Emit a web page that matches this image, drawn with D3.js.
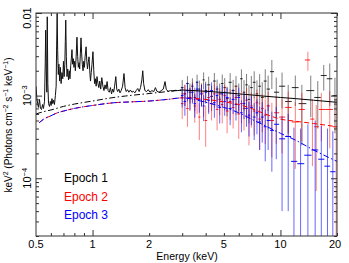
<!DOCTYPE html>
<html><head><meta charset="utf-8">
<script src="https://cdn.jsdelivr.net/npm/d3@7"></script>
<style>body{margin:0;background:#fff}svg{display:block}text{font-family:"Liberation Sans",Arial,Helvetica,sans-serif}</style>
</head><body>
<svg id="c" width="349" height="263"></svg>
<script>
const UNIT = 1e-3;
// Epoch 1 unfolded spectrum below 3 keV (E keV, value x1e-3)
const specE = [0.500,0.505,0.510,0.515,0.522,0.528,0.535,0.542,0.548,0.555,0.560,0.563,0.567,0.571,0.574,0.578,0.583,0.590,0.596,0.602,0.608,0.614,0.620,0.627,0.634,0.640,0.644,0.648,0.652,0.657,0.662,0.668,0.674,0.680,0.687,0.694,0.700,0.706,0.712,0.716,0.720,0.725,0.731,0.738,0.745,0.752,0.758,0.765,0.771,0.777,0.783,0.790,0.796,0.803,0.810,0.818,0.826,0.833,0.840,0.847,0.854,0.861,0.868,0.875,0.882,0.890,0.897,0.905,0.913,0.924,0.932,0.940,0.948,0.958,0.966,0.975,0.984,0.993,1.005,1.015,1.025,1.035,1.045,1.056,1.068,1.080,1.092,1.105,1.120,1.135,1.150,1.165,1.180,1.195,1.210,1.228,1.245,1.262,1.280,1.295,1.310,1.330,1.345,1.360,1.380,1.400,1.420,1.445,1.470,1.490,1.510,1.535,1.560,1.590,1.620,1.650,1.680,1.710,1.740,1.770,1.800,1.830,1.850,1.870,1.900,1.940,1.980,2.020,2.070,2.120,2.160,2.200,2.260,2.320,2.380,2.430,2.470,2.530,2.600,2.680,2.760,2.840,2.920,3.000];
const specV = [1.30,0.95,0.80,0.72,0.90,0.70,0.68,0.78,0.70,0.85,2.50,6.20,2.00,1.10,9.00,1.40,0.80,0.74,0.85,0.76,0.92,0.80,0.88,0.78,1.00,1.30,4.00,9.90,3.50,1.80,2.40,1.50,2.20,1.40,1.90,1.60,2.60,1.70,2.40,4.50,8.20,3.00,1.70,2.10,1.55,2.00,1.60,2.30,2.80,3.60,2.40,2.80,2.20,2.60,2.00,3.00,5.10,3.00,2.20,2.50,2.10,3.20,5.00,3.20,2.40,2.00,2.60,2.20,3.00,3.90,2.60,2.10,2.50,2.95,2.00,1.50,1.90,2.40,3.40,2.00,1.40,1.60,1.30,1.70,1.40,1.25,1.50,1.20,1.65,1.30,1.15,1.35,1.20,1.48,1.15,1.10,1.25,1.05,1.20,1.10,1.30,1.70,1.20,1.12,1.20,1.08,1.15,1.30,1.85,1.25,1.12,1.18,1.10,1.17,1.10,1.13,1.08,1.16,1.22,1.12,1.25,1.55,2.00,1.40,1.15,1.12,1.18,1.10,1.15,1.12,1.25,1.13,1.10,1.15,1.20,1.48,1.18,1.13,1.15,1.14,1.16,1.15,1.16,1.17];

// Epoch 1 data points (3-20 keV)
const e1E = [3.0,3.1,3.2,3.3,3.4,3.5,3.6,3.7,3.8,3.9,4.0,4.15,4.3,4.45,4.6,4.75,4.9,5.05,5.2,5.4,5.6,5.8,6.0,6.2,6.4,6.6,6.8,7.0,7.25,7.5,7.75,8.0,8.3,8.6,9.0,9.5,10.2,11.0,12.0,13.0,14.5,15.8,17.0,18.3,19.5];
const e1V = [1.25,1.05,1.40,1.10,1.30,0.95,1.45,1.20,1.05,1.55,1.15,1.35,0.98,1.50,1.20,1.05,1.40,1.25,0.92,1.45,1.15,1.30,1.00,1.60,1.10,1.35,0.90,1.25,1.45,1.05,1.30,0.95,1.50,1.20,1.95,1.10,1.30,0.85,1.25,0.80,1.15,0.95,1.75,1.60,1.00];
const e1Err = [0.30,0.30,0.32,0.30,0.32,0.30,0.34,0.32,0.32,0.36,0.33,0.35,0.33,0.38,0.36,0.35,0.40,0.38,0.36,0.42,0.40,0.42,0.40,0.48,0.44,0.48,0.44,0.48,0.52,0.48,0.52,0.50,0.58,0.55,0.75,0.55,0.60,0.50,0.50,0.55,0.60,0.55,0.60,0.85,0.65];
// Epoch 2
const e2E = [3.0,3.1,3.2,3.3,3.4,3.5,3.6,3.7,3.8,3.9,4.0,4.15,4.3,4.45,4.6,4.75,4.9,5.05,5.2,5.4,5.6,5.8,6.0,6.2,6.4,6.6,6.8,7.0,7.25,7.5,7.75,8.0,8.3,8.6,9.0,9.5,10.2,11.0,12.0,13.0,14.0,14.8,15.5,16.5,18.3,19.8];
const e2V = [0.80,1.05,0.70,0.95,1.15,0.75,0.90,0.55,1.10,0.85,0.50,0.95,0.80,1.05,0.68,0.90,0.78,1.00,0.65,0.85,0.72,0.95,0.60,0.80,0.70,0.88,0.55,0.75,0.65,0.82,0.52,0.70,0.58,0.75,0.50,0.62,0.55,0.72,0.48,0.68,2.70,0.52,0.42,0.68,0.68,0.42];
const e2Err = [0.28,0.30,0.28,0.30,0.32,0.28,0.30,0.26,0.32,0.30,0.26,0.32,0.30,0.34,0.30,0.32,0.32,0.34,0.30,0.34,0.32,0.36,0.30,0.34,0.32,0.36,0.30,0.34,0.32,0.36,0.30,0.34,0.32,0.36,0.32,0.36,0.35,0.40,0.35,0.40,0.70,0.38,0.35,0.40,0.45,0.50];
// Epoch 3
const e3E = [3.0,3.1,3.2,3.3,3.4,3.5,3.6,3.7,3.8,3.9,4.0,4.15,4.3,4.45,4.6,4.75,4.9,5.05,5.2,5.4,5.6,5.8,6.0,6.2,6.4,6.6,6.8,7.0,7.25,7.5,7.75,8.0,8.3,8.6,9.0,9.5,10.2,11.0,11.8,12.8,14.0,15.3,16.5,17.8,19.0];
const e3V = [1.00,0.85,1.15,0.95,1.10,0.80,1.20,0.90,1.05,0.75,1.10,0.88,1.15,0.82,1.00,0.72,1.05,0.85,0.95,0.70,0.90,0.78,0.95,0.62,0.80,0.70,0.58,0.72,0.55,0.62,0.48,0.55,0.42,0.50,0.38,0.45,0.30,0.32,0.16,0.15,0.19,0.22,0.17,0.14,0.12];
const e3Err = [0.28,0.28,0.30,0.28,0.30,0.26,0.30,0.28,0.30,0.26,0.30,0.28,0.30,0.28,0.30,0.26,0.30,0.28,0.30,0.26,0.30,0.28,0.30,0.26,0.28,0.28,0.26,0.28,0.26,0.28,0.26,0.28,0.26,0.28,0.26,0.28,0.26,0.28,0.25,0.25,0.26,0.28,0.26,0.26,0.25];

// Models
const modBlkE = [0.5,0.55,0.6,0.7,0.8,1.0,1.3,1.5,2.0,2.5,3.0,4.0,5.0,6.0,7.0,8.0,10,12,15,20];
const modBlkV = [0.60,0.64,0.67,0.74,0.79,0.86,0.95,0.99,1.06,1.12,1.17,1.13,1.09,1.05,1.02,0.99,0.95,0.92,0.88,0.83];
const modRedE = [0.52,0.55,0.6,0.65,0.7,0.8,1.0,1.3,1.6,2.0,2.5,3.0,4.0,5.0,6.0,7.0,8.0,9.0,10,12,15,20];
const modRedV = [0.47,0.52,0.57,0.62,0.65,0.70,0.76,0.82,0.84,0.86,0.90,0.94,0.90,0.84,0.78,0.70,0.62,0.56,0.52,0.49,0.46,0.42];
const modBluE = [0.52,0.55,0.6,0.65,0.7,0.8,1.0,1.3,1.6,2.0,2.5,3.0,4.0,5.0,6.0,7.0,8.0,10,12,15,20];
const modBluV = [0.47,0.52,0.57,0.62,0.65,0.70,0.76,0.82,0.84,0.86,0.90,0.94,0.83,0.72,0.62,0.52,0.45,0.35,0.29,0.22,0.16];

const xTickLabels = [0.5,1,2,5,10,20];
const xMajor = [1,10];
const xMinor = [0.6,0.7,0.8,0.9,2,3,4,5,6,7,8,9,20];
const yMajor = [1e-4,1e-3,1e-2];
const yLabels = ["10|-4","10|-3","0.01"];
const legend = ["Epoch 1","Epoch 2","Epoch 3"];
const colors = ["#000000","#ff0000","#0000ff"];

const svg = d3.select("#c");
const L=36,R=337,T=13,B=236;
const x = d3.scaleLog().domain([0.5,20]).range([L,R]);
const y = d3.scaleLog().domain([2e-5,0.01]).range([B,T]);
const yMinor = [];
for (let d=-5; d<=-3; d++) for (let k=2;k<=9;k++){ const v=k*Math.pow(10,d); if (v>=2e-5 && v<0.01) yMinor.push(v); }

svg.append("defs").append("clipPath").attr("id","clip").append("rect")
  .attr("x",L).attr("y",T).attr("width",R-L).attr("height",B-T);
const plot = svg.append("g").attr("clip-path","url(#clip)");

// spectrum line
const specLine = d3.line().x(d=>x(d[0])).y(d=>y(d[1]*UNIT));
plot.append("path").datum(specE.map((e,i)=>[e,specV[i]]))
  .attr("d",specLine).attr("fill","none").attr("stroke","#111").attr("stroke-width",1);

// data crosses
function crosses(E,V,Er,col,op){
  const n=Math.min(E.length,V.length,Er.length);
  const g=plot.append("g");
  for(let i=0;i<n;i++){
    const lg=Math.log(E[i]);
    const dl = i>0 ? (lg-Math.log(E[i-1]))/2 : (Math.log(E[1])-lg)/2;
    const dr = i<n-1 ? (Math.log(E[i+1])-lg)/2 : (lg-Math.log(E[i-1]))/2;
    const x0=x(Math.exp(lg-dl)), x1=x(Math.exp(lg+dr));
    const lo=V[i]-Er[i], hi=V[i]+Er[i];
    const y0 = lo>0 ? y(lo*UNIT) : B+2;
    g.append("line").attr("x1",x(E[i])).attr("x2",x(E[i]))
      .attr("y1",y(hi*UNIT)).attr("y2",y0)
      .attr("stroke",col).attr("stroke-opacity",op).attr("stroke-width",1);
    g.append("line").attr("x1",x0).attr("x2",x1)
      .attr("y1",y(V[i]*UNIT)).attr("y2",y(V[i]*UNIT))
      .attr("stroke",col).attr("stroke-opacity",Math.min(1,op+0.35)).attr("stroke-width",1);
  }
}
crosses(e1E,e1V,e1Err,"#000",0.5);
crosses(e2E,e2V,e2Err,"#ff0000",0.5);
crosses(e3E,e3V,e3Err,"#0000ff",0.6);

// models
const mline = d3.line().x(d=>x(d[0])).y(d=>y(d[1]*UNIT)).curve(d3.curveMonotoneX);
const blk = modBlkE.map((e,i)=>[e,modBlkV[i]]);
plot.append("path").datum(blk.filter(d=>d[0]<=3)).attr("d",mline)
  .attr("fill","none").attr("stroke","#000").attr("stroke-width",1).attr("stroke-dasharray","6,2.5,1.5,2.5");
plot.append("path").datum(blk.filter(d=>d[0]>=3)).attr("d",mline)
  .attr("fill","none").attr("stroke","#000").attr("stroke-width",1);
plot.append("path").datum(modRedE.map((e,i)=>[e,modRedV[i]])).attr("d",mline)
  .attr("fill","none").attr("stroke","#ff0000").attr("stroke-width",1).attr("stroke-dasharray","5,3");
plot.append("path").datum(modBluE.map((e,i)=>[e,modBluV[i]])).attr("d",mline)
  .attr("fill","none").attr("stroke","#0000ff").attr("stroke-width",1).attr("stroke-dasharray","6,2.5,1.5,2.5");

// axes (ticks inward)
function ax(gen, tr, vals, size){
  const g=svg.append("g").attr("transform",tr)
    .call(gen.tickValues(vals).tickSize(size).tickFormat(""));
  g.select(".domain").remove();
  g.selectAll("line").attr("stroke","#333");
}
ax(d3.axisBottom(x),`translate(0,${B})`,xMajor,-6);
ax(d3.axisBottom(x),`translate(0,${B})`,xMinor,-3);
ax(d3.axisTop(x),`translate(0,${T})`,xMajor,-6);
ax(d3.axisTop(x),`translate(0,${T})`,xMinor,-3);
ax(d3.axisLeft(y),`translate(${L},0)`,yMajor,-6);
ax(d3.axisLeft(y),`translate(${L},0)`,yMinor,-3);
ax(d3.axisRight(y),`translate(${R},0)`,yMajor,-6);
ax(d3.axisRight(y),`translate(${R},0)`,yMinor,-3);

svg.append("rect").attr("x",L).attr("y",T).attr("width",R-L).attr("height",B-T)
  .attr("fill","none").attr("stroke","#333").attr("stroke-width",1);

// x labels
svg.append("g").selectAll("text").data(xTickLabels).join("text")
  .attr("x",d=>d===20?x(d)-2:x(d)).attr("y",248).attr("text-anchor","middle")
  .attr("font-size",11).attr("fill","#000").text(d=>d);
svg.append("text").attr("x",187).attr("y",260).attr("text-anchor","middle")
  .attr("font-size",10.5).text("Energy (keV)");

// y labels (rotated)
yMajor.forEach((v,i)=>{
  const parts=yLabels[i].split("|");
  const yy = v===1e-2 ? y(v)+5 : y(v);
  const t=svg.append("text").attr("transform",`translate(31,${yy}) rotate(-90)`)
    .attr("text-anchor","middle").attr("font-size",11);
  t.append("tspan").text(parts[0]);
  if(parts[1]) t.append("tspan").attr("dy",-4).attr("font-size",7.5).text(parts[1].replace("-","\u2212"));
});
const yt=svg.append("text").attr("transform",`translate(12,125) rotate(-90)`)
  .attr("text-anchor","middle").attr("font-size",10);
yt.append("tspan").text("keV");
yt.append("tspan").attr("dy",-4).attr("font-size",7).text("2");
yt.append("tspan").attr("dy",4).text(" (Photons cm");
yt.append("tspan").attr("dy",-4).attr("font-size",7).text("\u22122");
yt.append("tspan").attr("dy",4).text(" s");
yt.append("tspan").attr("dy",-4).attr("font-size",7).text("\u22121");
yt.append("tspan").attr("dy",4).text(" keV");
yt.append("tspan").attr("dy",-4).attr("font-size",7).text("\u22121");
yt.append("tspan").attr("dy",4).text(")");

// legend
svg.append("g").selectAll("text").data(legend).join("text")
  .attr("x",64).attr("y",(d,i)=>182+i*18.5).attr("font-size",12)
  .attr("fill",(d,i)=>colors[i]).text(d=>d);
</script>
</body></html>
